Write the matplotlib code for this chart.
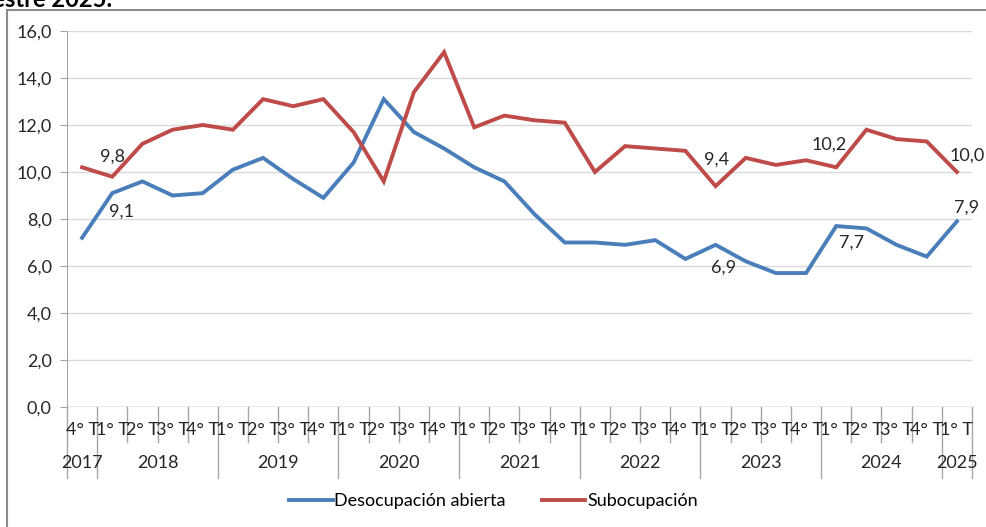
import matplotlib.pyplot as plt
from matplotlib.patches import Rectangle
from matplotlib.lines import Line2D

plt.rcParams['font.family'] = ['Lato', 'DejaVu Sans']

# Datos (porcentaje)
trimestres = ['4° T',
              '1° T', '2° T', '3° T', '4° T',
              '1° T', '2° T', '3° T', '4° T',
              '1° T', '2° T', '3° T', '4° T',
              '1° T', '2° T', '3° T', '4° T',
              '1° T', '2° T', '3° T', '4° T',
              '1° T', '2° T', '3° T', '4° T',
              '1° T', '2° T', '3° T', '4° T',
              '1° T']
anios = ['2017', '2018', '2019', '2020', '2021', '2022', '2023', '2024', '2025']
trim_por_anio = [1, 4, 4, 4, 4, 4, 4, 4, 1]

desocupacion = [7.2, 9.1, 9.6, 9.0, 9.1, 10.1, 10.6, 9.7, 8.9, 10.4, 13.1, 11.7, 11.0,
                10.2, 9.6, 8.2, 7.0, 7.0, 6.9, 7.1, 6.3, 6.9, 6.2, 5.7, 5.7, 7.7, 7.6,
                6.9, 6.4, 7.9]
subocupacion = [10.2, 9.8, 11.2, 11.8, 12.0, 11.8, 13.1, 12.8, 13.1, 11.7, 9.6, 13.4, 15.1,
                11.9, 12.4, 12.2, 12.1, 10.0, 11.1, 11.0, 10.9, 9.4, 10.6, 10.3, 10.5, 10.2,
                11.8, 11.4, 11.3, 10.0]

# etiquetas de datos: (indice, desplazamiento en pixeles)
etiquetas_desoc = {1: (9, -18), 21: (8, -23), 25: (15, -17), 29: (10, 14)}
etiquetas_subo = {1: (0, 20), 21: (1, 26), 25: (-7, 23), 29: (10, 16)}

azul = '#4a7ebb'
rojo = '#be4b48'
gris = '#a6a6a6'
txt = '#262626'
fs = 13

fig = plt.figure(figsize=(9.87, 5.27), dpi=100)
ax = fig.add_axes([67 / 987, 120 / 527, 905 / 987, 376 / 527])

x = [i + 0.5 for i in range(len(trimestres))]
ax.plot(x, desocupacion, color=azul, lw=2.8, solid_joinstyle='miter', label='Desocupación abierta')
ax.plot(x, subocupacion, color=rojo, lw=2.8, solid_joinstyle='miter', label='Subocupación')

for i, (dx, dy) in etiquetas_desoc.items():
    ax.annotate(f'{desocupacion[i]:.1f}'.replace('.', ','), (x[i], desocupacion[i]),
                xytext=(dx, dy), textcoords='offset pixels', ha='center', va='center',
                fontsize=fs, color=txt)
for i, (dx, dy) in etiquetas_subo.items():
    ax.annotate(f'{subocupacion[i]:.1f}'.replace('.', ','), (x[i], subocupacion[i]),
                xytext=(dx, dy), textcoords='offset pixels', ha='center', va='center',
                fontsize=fs, color=txt)

ax.set_xlim(0, len(trimestres))
ax.set_ylim(0, 16)
ax.set_yticks(range(0, 17, 2))
ax.set_yticklabels([f'{v:.1f}'.replace('.', ',') for v in range(0, 17, 2)], fontsize=fs, color=txt)
ax.grid(axis='y', color='#d9d9d9', lw=1)
ax.set_axisbelow(True)
ax.tick_params(axis='y', length=5, color=gris, pad=6)
ax.set_xticks([])
for s in ['top', 'right', 'bottom']:
    ax.spines[s].set_visible(False)
ax.spines['left'].set_color(gris)
ax.axhline(0, color=gris, lw=1)

# eje de categorias de dos niveles
trans = ax.get_xaxis_transform()
limites = [0]
for n in trim_por_anio:
    limites.append(limites[-1] + n)
for b in range(len(trimestres) + 1):
    y_fin = -0.189 if b in limites else -0.093
    ax.plot([b, b], [0, y_fin], color=gris, lw=1, transform=trans, clip_on=False)
for i, t in enumerate(trimestres):
    ax.text(i + 0.5, -0.061, t, transform=trans, ha='center', va='center', fontsize=13,
            color=txt, family=['Liberation Sans Narrow', 'Lato'])
for k, a in enumerate(anios):
    centro = (limites[k] + limites[k + 1]) / 2
    ax.text(centro, -0.149, a, transform=trans, ha='center', va='center', fontsize=fs, color=txt)

handles = [Line2D([], [], color=azul, lw=2.8), Line2D([], [], color=rojo, lw=2.8)]
fig.legend(handles, ['Desocupación abierta', 'Subocupación'], loc='center',
           bbox_to_anchor=(0.5, 1 - 501 / 527), ncol=2, frameon=False, fontsize=fs,
           handlelength=2.4, handletextpad=0.1, columnspacing=2.0)

# marco del grafico y titulo recortado
fig.patches.append(Rectangle((7 / 987, -0.05), 1.1, 1 - 10 / 527 + 0.05, transform=fig.transFigure,
                             fill=False, edgecolor='#8c8c8c', lw=1.5))
fig.text(112 / 987, 1 - 7 / 527, 'trimestre 2025.', ha='right', va='baseline',
         fontsize=17, fontweight='bold', color='black')

fig.savefig('out.png', dpi=100)
